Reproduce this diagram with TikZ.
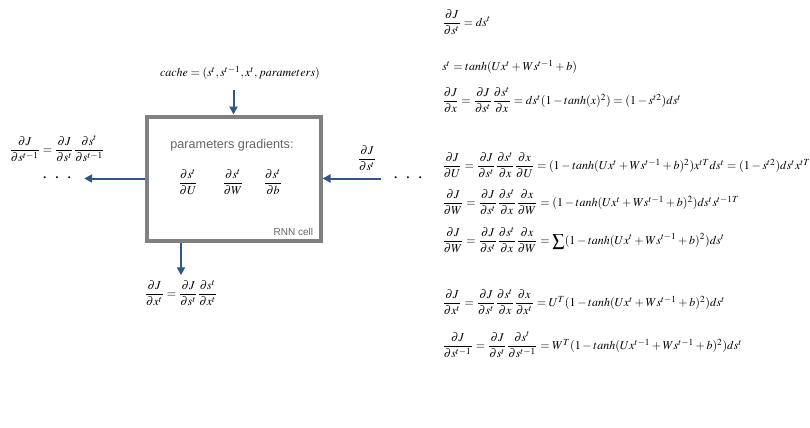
\documentclass[tikz,border=0pt]{standalone}
\usepackage{amsmath}
\usepackage{mathptmx}
\usepackage{fontspec}
\setmainfont{Liberation Serif}
\setsansfont{Liberation Sans}
\usetikzlibrary{arrows.meta, positioning}

\definecolor{cellgray}{RGB}{128,128,128}
\definecolor{flowblue}{RGB}{48,86,140}
\definecolor{labelgray}{RGB}{100,100,100}

\begin{document}
\begin{tikzpicture}[
    x=0.75pt, y=-0.75pt,
    font=\fontsize{9}{11}\selectfont,
    cell/.style={draw=cellgray, line width=3pt, minimum width=130.5pt, minimum height=93pt, inner sep=0pt},
    flow/.style={-{Triangle[length=6pt, width=6pt]}, draw=flowblue, line width=1.5pt},
    grad/.style={inner sep=1pt},
    eqn/.style={anchor=west, inner sep=0pt},
    dots/.style={inner sep=0pt, font=\Large, text height=4pt, text depth=0pt}
]
\useasboundingbox (0,0) rectangle (810,428);

% --- RNN cell ---
\node[cell] (cell) at (233.5,178.5) {};
\node[font=\sffamily\fontsize{9.5}{11}\selectfont, text=labelgray] (title) at (232,145) {parameters gradients:};
\node[grad] (dsdU) at (188,182) {$\dfrac{\partial s^t}{\partial U}$};
\node[grad] (dsdW) at (233,182) {$\dfrac{\partial s^t}{\partial W}$};
\node[grad] (dsdb) at (273,182) {$\dfrac{\partial s^t}{\partial b}$};
\node[anchor=south east, font=\sffamily\fontsize{7.5}{9}\selectfont, text=labelgray] (tag) at ([xshift=-3.5pt, yshift=2pt]cell.south east) {RNN cell};

% --- Input from above ---
\node (cache) at (240,73) {$cache=(s^t,s^{t-1},x^t,parameters)$};
\coordinate (cachein) at ([yshift=-4pt]cell.north |- cache.south);
\draw[flow] (cachein) -- (cell.north);

% --- Left side ---
\node[dots] (ldots) at (57,180) {$\cdot\;\cdot\;\cdot$};
\node (sprev) at (57,149) {$\dfrac{\partial J}{\partial s^{t-1}}=\dfrac{\partial J}{\partial s^t}\dfrac{\partial s^t}{\partial s^{t-1}}$};
\draw[flow, shorten >=9pt] (cell.west) -- (cell.west -| ldots.east);

% --- Right side ---
\node[dots] (rdots) at (408,180) {$\cdot\;\cdot\;\cdot$};
\node (sgrad) at (367,158) {$\dfrac{\partial J}{\partial s^t}$};
\draw[flow, shorten <=9pt] (cell.east -| rdots.west) -- (cell.east);

% --- Output below ---
\node (xgrad) at (181,293) {$\dfrac{\partial J}{\partial x^t}=\dfrac{\partial J}{\partial s^t}\dfrac{\partial s^t}{\partial x^t}$};
\draw[flow] (cell.south -| xgrad.north) -- (xgrad.north);

% --- Equations ---
\node[eqn] (e1) at (442,22) {$\dfrac{\partial J}{\partial s^t}=ds^t$};
\node[eqn] (e2) at (442,67) {$s^t=tanh(Ux^t+Ws^{t-1}+b)$};
\node[eqn] (e3) at (442,100) {$\dfrac{\partial J}{\partial x}=\dfrac{\partial J}{\partial s^t}\dfrac{\partial s^t}{\partial x}=ds^t(1-tanh(x)^2)=(1-s^{t2})ds^t$};
\node[eqn] (e4) at (442,165) {$\dfrac{\partial J}{\partial U}=\dfrac{\partial J}{\partial s^t}\dfrac{\partial s^t}{\partial x}\dfrac{\partial x}{\partial U}=(1-tanh(Ux^t+Ws^{t-1}+b)^2)x^{tT}ds^t=(1-s^{t2})ds^tx^{tT}$};
\node[eqn] (e5) at (442,202) {$\dfrac{\partial J}{\partial W}=\dfrac{\partial J}{\partial s^t}\dfrac{\partial s^t}{\partial x}\dfrac{\partial x}{\partial W}=(1-tanh(Ux^t+Ws^{t-1}+b)^2)ds^ts^{t-1T}$};
\node[eqn] (e6) at (442,240) {$\dfrac{\partial J}{\partial W}=\dfrac{\partial J}{\partial s^t}\dfrac{\partial s^t}{\partial x}\dfrac{\partial x}{\partial W}=\displaystyle\sum(1-tanh(Ux^t+Ws^{t-1}+b)^2)ds^t$};
\node[eqn] (e7) at (442,302) {$\dfrac{\partial J}{\partial x^t}=\dfrac{\partial J}{\partial s^t}\dfrac{\partial s^t}{\partial x}\dfrac{\partial x}{\partial x^t}=U^T(1-tanh(Ux^t+Ws^{t-1}+b)^2)ds^t$};
\node[eqn] (e8) at (442,345) {$\dfrac{\partial J}{\partial s^{t-1}}=\dfrac{\partial J}{\partial s^t}\dfrac{\partial s^t}{\partial s^{t-1}}=W^T(1-tanh(Ux^{t-1}+Ws^{t-1}+b)^2)ds^t$};

\end{tikzpicture}
\end{document}
